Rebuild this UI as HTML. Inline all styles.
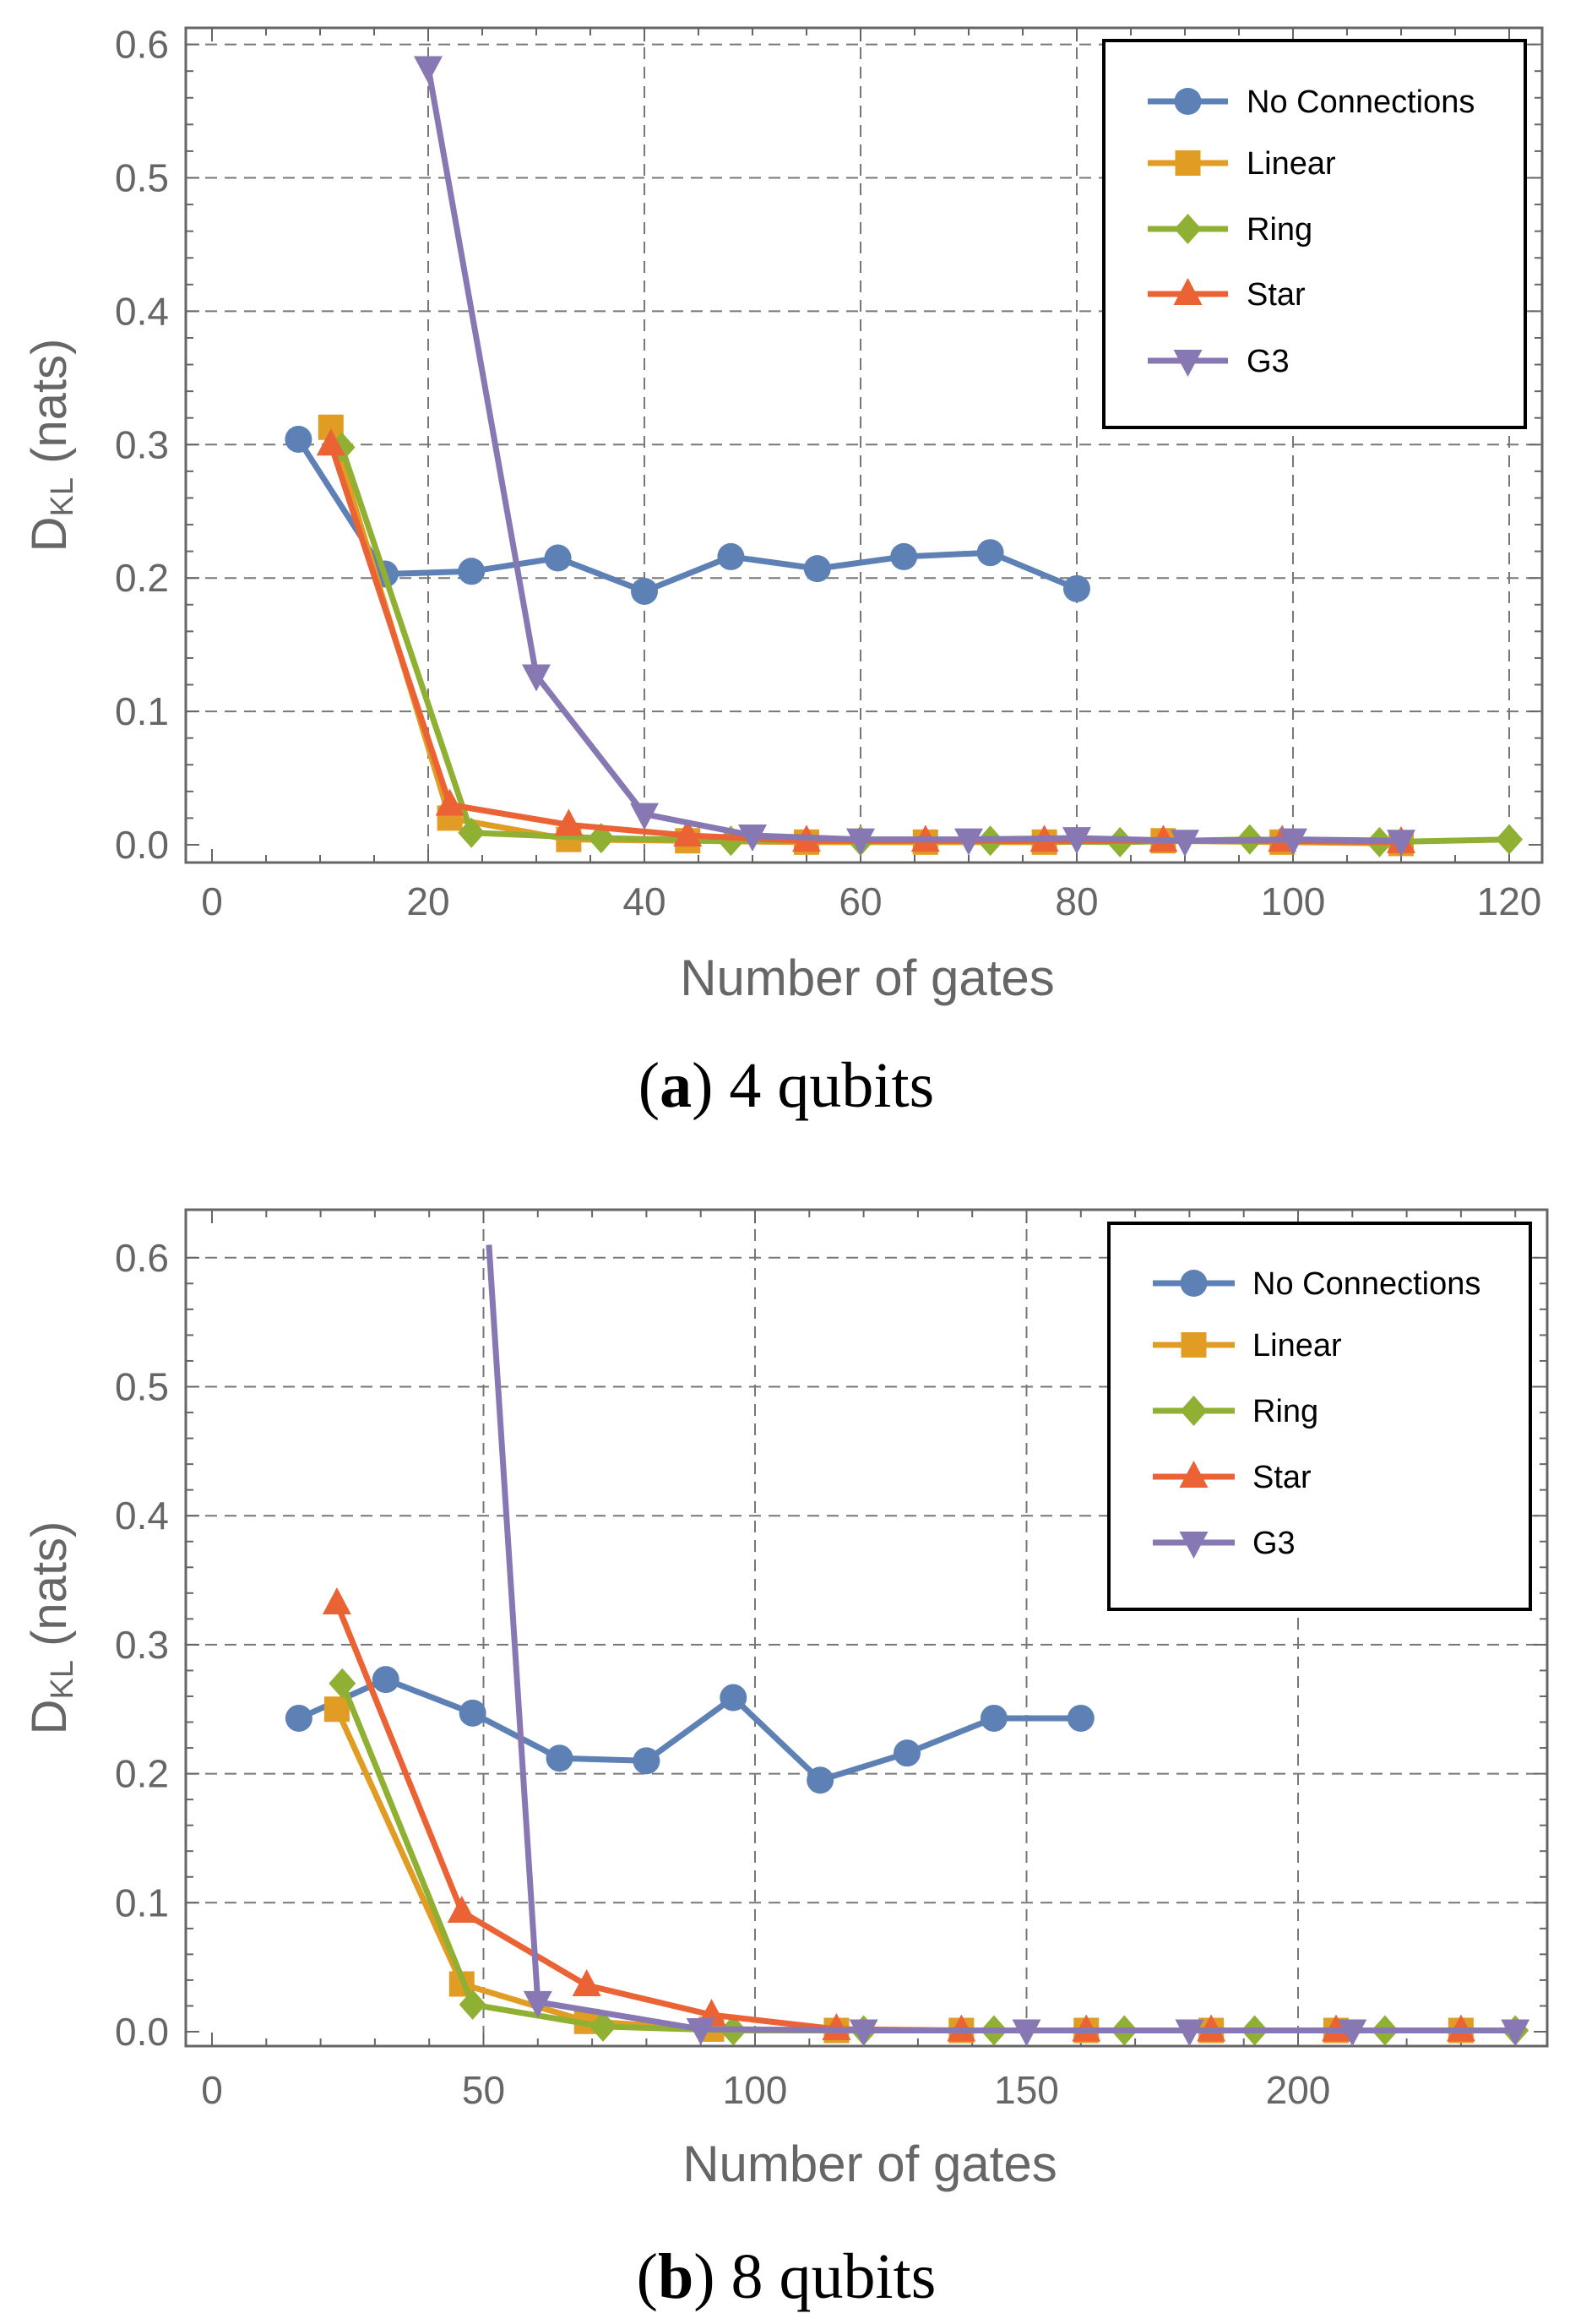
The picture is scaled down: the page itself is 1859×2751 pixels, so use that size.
<!DOCTYPE html>
<html><head><meta charset="utf-8"><style>
body{margin:0;background:#fff;}
svg{display:block;}
</style></head><body>
<svg id="s" width="1859" height="2751" xmlns="http://www.w3.org/2000/svg">
<text x="931" y="1310" text-anchor="middle" font-family="Liberation Serif, serif" font-size="76" fill="#000">(<tspan font-weight="bold">a</tspan>) 4 qubits</text>
<text x="931" y="2720" text-anchor="middle" font-family="Liberation Serif, serif" font-size="76" fill="#000">(<tspan font-weight="bold">b</tspan>) 8 qubits</text>
</svg>
<script>
// Chart A data (4 qubits)
const aNoConnX=[8,16,24,32,40,48,56,64,72,80];
const aNoConnY=[0.304,0.203,0.205,0.215,0.190,0.216,0.207,0.216,0.219,0.192];
const aLinearX=[11,22,33,44,55,66,77,88,99,110];
const aLinearY=[0.313,0.020,0.004,0.003,0.002,0.002,0.002,0.003,0.002,0.001];
const aRingX=[12,24,36,48,60,72,84,96,108,120];
const aRingY=[0.298,0.009,0.005,0.003,0.003,0.003,0.002,0.004,0.002,0.004];
const aStarX=[11,22,33,44,55,66,77,88,99,110];
const aStarY=[0.300,0.030,0.015,0.007,0.003,0.003,0.003,0.003,0.003,0.002];
const aG3X=[20,30,40,50,60,70,80,90,100,110];
const aG3Y=[0.583,0.127,0.023,0.007,0.004,0.004,0.005,0.003,0.004,0.003];
const aXTicks=[0,20,40,60,80,100,120];
const aYTicks=["0.0","0.1","0.2","0.3","0.4","0.5","0.6"];
// Chart B data (8 qubits)
const bNoConnX=[16,32,48,64,80,96,112,128,144,160];
const bNoConnY=[0.243,0.273,0.247,0.212,0.210,0.259,0.195,0.216,0.243,0.243];
const bLinearX=[23,46,69,92,115,138,161,184,207,230];
const bLinearY=[0.250,0.037,0.008,0.002,0.001,0.001,0.001,0.001,0.001,0.001];
const bRingX=[24,48,72,96,120,144,168,192,216,240];
const bRingY=[0.270,0.021,0.004,0.001,0.001,0.001,0.001,0.001,0.001,0.001];
const bStarX=[23,46,69,92,115,138,161,184,207,230];
const bStarY=[0.332,0.093,0.036,0.013,0.002,0.001,0.001,0.001,0.001,0.001];
const bG3X=[51,60,90,120,150,180,210,240];
const bG3Y=[0.61,0.023,0.002,0.001,0.001,0.001,0.001,0.001];
const bXTicks=[0,50,100,150,200];
const bYTicks=["0.0","0.1","0.2","0.3","0.4","0.5","0.6"];
const seriesNames=["No Connections","Linear","Ring","Star","G3"];

const NS="http://www.w3.org/2000/svg";
const svg=document.getElementById('s');
const colors=["#5e81b5","#e19c24","#8fb032","#eb6235","#8778b3"];
const shapes=["circle","square","diamond","up","down"];
function mk(tag,attrs,parent){const e=document.createElementNS(NS,tag);for(const k in attrs)e.setAttribute(k,attrs[k]);(parent||svg).appendChild(e);return e;}
function marker(shape,cx,cy,col,g){
  let e;
  if(shape==="circle")e=mk('circle',{cx:cx,cy:cy,r:16,fill:col},g);
  else if(shape==="square")e=mk('rect',{x:cx-15,y:cy-15,width:30,height:30,fill:col},g);
  else if(shape==="diamond")e=mk('polygon',{points:`${cx},${cy-18} ${cx+16},${cy} ${cx},${cy+18} ${cx-16},${cy}`,fill:col},g);
  else if(shape==="up")e=mk('polygon',{points:`${cx},${cy-19} ${cx+17},${cy+13} ${cx-17},${cy+13}`,fill:col},g);
  else e=mk('polygon',{points:`${cx},${cy+19} ${cx+17},${cy-13} ${cx-17},${cy-13}`,fill:col},g);
  return e;
}
function drawChart(c){
  const g=mk('g',{});
  
  
  const X=v=>c.x0+(v-c.xmin)*c.xs, Y=v=>c.y0-v*c.ys;
  const clipId=c.name+'-clip';
  const cp=mk('clipPath',{id:clipId},g);mk('rect',{x:c.L,y:c.T,width:c.R-c.L,height:c.B-c.T},cp);
  c.xTicks.forEach(t=>{if(t===0)return;const l=mk('line',{x1:X(t),x2:X(t),y1:c.T,y2:c.B,stroke:'#777','stroke-width':2,'stroke-dasharray':'14,9'},g);
    });
  c.yTicks.forEach(t=>{const v=parseFloat(t);if(v===0)return;const l=mk('line',{x1:c.L,x2:c.R,y1:Y(v),y2:Y(v),stroke:'#777','stroke-width':2,'stroke-dasharray':'14,9'},g);
    });
  for(let v=c.xmin;v<=c.xmaxTick+1e-9;v+=c.xMinor){const maj=Math.abs(v/c.xMajor-Math.round(v/c.xMajor))<1e-6;const len=maj?16:9;
    mk('line',{x1:X(v),x2:X(v),y1:c.B,y2:c.B-len,stroke:'#666','stroke-width':2},g);
    mk('line',{x1:X(v),x2:X(v),y1:c.T,y2:c.T+len,stroke:'#666','stroke-width':2},g);}
  for(let v=0;v<=0.62;v+=0.02){const maj=Math.abs(v*10-Math.round(v*10))<1e-6;const len=maj?16:9;
    mk('line',{x1:c.L,x2:c.L+len,y1:Y(v),y2:Y(v),stroke:'#666','stroke-width':2},g);
    mk('line',{x1:c.R,x2:c.R-len,y1:Y(v),y2:Y(v),stroke:'#666','stroke-width':2},g);}
  const fr=mk('rect',{x:c.L,y:c.T,width:c.R-c.L,height:c.B-c.T,fill:'none',stroke:'#666','stroke-width':3},g);
  
  c.xTicks.forEach(t=>{const e=mk('text',{x:X(t),y:c.xLabY,'text-anchor':'middle','font-family':'Liberation Sans, sans-serif','font-size':46,fill:'#666'},g);e.textContent=t;
    });
  c.yTicks.forEach(t=>{const e=mk('text',{x:c.L-20,y:Y(parseFloat(t))+16,'text-anchor':'end','font-family':'Liberation Sans, sans-serif','font-size':46,fill:'#666'},g);e.textContent=t;
    });
  const xt=mk('text',{x:(c.L+c.R)/2+4,y:c.xTitleY,'text-anchor':'middle','font-family':'Liberation Sans, sans-serif','font-size':60,fill:'#666'},g);xt.textContent='Number of gates';
  
  const yc=(c.T+c.B)/2;
  const yt=mk('text',{x:0,y:0,transform:`translate(78,${yc}) rotate(-90)`,'text-anchor':'middle','font-family':'Liberation Sans, sans-serif','font-size':58,fill:'#666'},g);
  yt.innerHTML='D<tspan font-size="38" dy="8">KL</tspan><tspan dy="-8"> (nats)</tspan>';
  
  c.series.forEach((s,i)=>{
    const sg=mk('g',{'clip-path':`url(#${clipId})`},g);
    
    
    const pts=s[0].map((x,j)=>X(x)+','+Y(s[1][j])).join(' ');
    mk('polyline',{points:pts,fill:'none',stroke:colors[i],'stroke-width':7,'stroke-linejoin':'round'},sg);
    s[0].forEach((x,j)=>{if(s[1][j]>0.6&&c.hideTop)return;const m=marker(shapes[i],X(x),Y(s[1][j]),colors[i],sg);
      });
  });
  const lg=mk('g',{},g);
  
  
  mk('rect',{x:c.lg.x,y:c.lg.y,width:c.lg.w,height:c.lg.h,fill:'#fff',stroke:'#000','stroke-width':4},lg);
  seriesNames.forEach((n,i)=>{const y=c.lg.rows[i];
    const eg=mk('g',{},lg);
    
    
    mk('line',{x1:c.lg.lx1,x2:c.lg.lx2,y1:y,y2:y,stroke:colors[i],'stroke-width':7},eg);
    marker(shapes[i],(c.lg.lx1+c.lg.lx2)/2,y,colors[i],eg);
    const t=mk('text',{x:c.lg.tx,y:y+13,'font-family':'Liberation Sans, sans-serif','font-size':38,fill:'#000'},eg);t.textContent=n;});
}
drawChart({name:'chart-4-qubits',L:220,R:1826,T:33,B:1021,x0:251,xmin:0,xs:256/20,y0:1000,ys:1579,
  xMajor:20,xMinor:5,xmaxTick:120,xTicks:aXTicks,yTicks:aYTicks,xLabY:1083,xTitleY:1178,hideTop:false,
  series:[[aNoConnX,aNoConnY],[aLinearX,aLinearY],[aRingX,aRingY],[aStarX,aStarY],[aG3X,aG3Y]],
  lg:{x:1307,y:48,w:499,h:458,rows:[120,193,271,348,427],lx1:1359,lx2:1454,tx:1476}});
drawChart({name:'chart-8-qubits',L:220,R:1832,T:1432,B:2422,x0:251,xmin:0,xs:321.5/50,y0:2405,ys:1527,
  xMajor:50,xMinor:10,xmaxTick:240,xTicks:bXTicks,yTicks:bYTicks,xLabY:2490,xTitleY:2582,hideTop:true,
  series:[[bNoConnX,bNoConnY],[bLinearX,bLinearY],[bRingX,bRingY],[bStarX,bStarY],[bG3X,bG3Y]],
  lg:{x:1313,y:1448,w:499,h:457,rows:[1519,1592,1670,1748,1826],lx1:1365,lx2:1462,tx:1483}});
</script>
</body></html>
